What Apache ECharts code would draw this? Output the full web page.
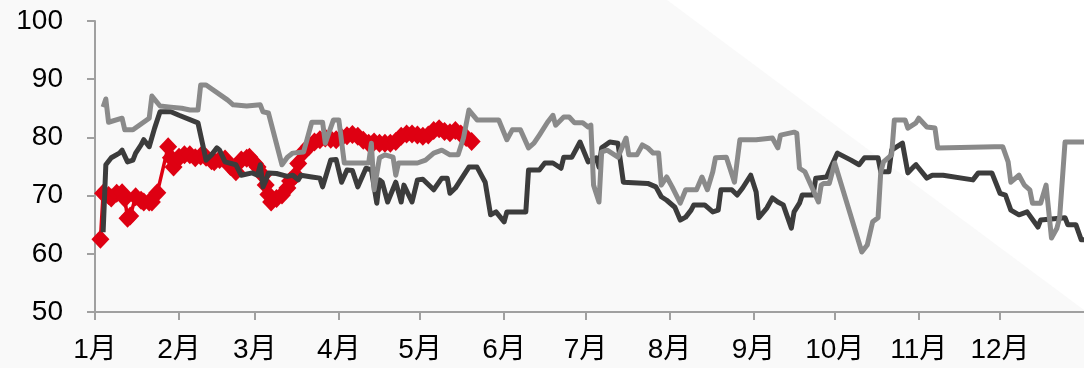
<!DOCTYPE html>
<html>
<head>
<meta charset="utf-8">
<script src="https://cdn.jsdelivr.net/npm/echarts@6/dist/echarts.min.js"></script>
<style>
  html, body { margin: 0; padding: 0; background: #f9f9f9; }
  #chart { width: 1084px; height: 368px; }
</style>
</head>
<body>
<div id="chart"></div>
<script>
// x axis: one category per day of the year, labels at month starts
const monthLabels = ['1月', '2月', '3月', '4月', '5月', '6月', '7月', '8月', '9月', '10月', '11月', '12月'];
const monthDays = [31, 28, 31, 30, 31, 30, 31, 31, 30, 31, 30, 31];

// light gray line (day of year, value)
const grayDays = [3, 4, 5, 10, 11, 14, 17, 20, 21, 24, 28, 32, 35, 38, 39, 41, 49, 51, 56, 61, 62, 64,
  69, 71, 73, 77, 80, 84, 85, 88, 90, 92, 101, 102, 103, 105, 107, 110, 111, 112, 119, 122,
  125, 128, 131, 134, 136, 138, 141, 149, 152, 154, 157, 160, 162, 164, 167, 169, 170, 173, 175,
  177, 180, 182, 183, 184, 186, 187, 189, 193, 196, 197, 200, 202, 204, 206, 208, 209, 211, 213,
  216, 218, 222, 224, 226, 228, 229, 233, 236, 238, 244, 250, 252, 253, 258, 259, 260, 262,
  267, 268, 269, 271, 273, 283, 285, 287, 289, 290, 291, 294, 295, 299, 300, 303, 304, 307,
  310, 311, 332, 335, 337, 338, 341, 343, 345, 346, 349, 351, 353, 355, 356, 358, 365];
const grayVals = [85.2, 86.6, 82.6, 83.3, 81.3, 81.3, 82.3, 83.3, 87.1, 85.4, 85.2, 85, 84.7, 84.7, 89, 89, 86.4, 85.6, 85.4, 85.6, 84.4, 84.2,
  75.3, 76.6, 77.3, 77.5, 82.6, 82.6, 79, 83, 83, 75.6, 75.6, 79, 71, 76.5, 77, 76.6, 73.5, 75.6, 75.6, 76.1,
  77.3, 77.8, 77, 77, 79.9, 84.7, 83, 83, 79.6, 81.3, 81.3, 78.2, 79, 80.4, 82.6, 83.8, 82.1, 83.5, 83.5,
  82.5, 82.5, 81.8, 82.1, 71.8, 68.9, 77.5, 77.8, 76.6, 79.9, 77, 77, 78.7, 78.2, 77.3, 77.3, 71.8, 73.2, 71.5,
  68.7, 71, 71, 73.2, 71, 74.1, 76.5, 76.6, 72.3, 79.6, 79.6, 79.9, 78.2, 80.4, 80.9, 80.7, 74.7, 74.1,
  68.9, 71.8, 72.1, 72.1, 75.6, 60.3, 61.5, 65.5, 66.2, 74.1, 75.8, 77, 83, 83, 81.6, 82.5, 83.3, 81.8,
  81.6, 78.2, 78.4, 78.4, 75.8, 72.3, 73.5, 71.8, 71, 68.7, 68.7, 71.8, 62.7, 64.4, 66.2, 79.2, 79.2];

// dark line
const darkDays = [3, 4, 6, 9, 10, 12, 14, 15, 17, 18, 20, 22, 24, 28, 31, 38, 41, 43, 45, 46, 48, 52, 54,
  58, 60, 61, 62, 63, 64, 67, 71, 73, 75, 76, 80, 83, 84, 87, 89, 91, 93, 95, 97, 100, 102, 104, 105,
  106, 108, 111, 113, 114, 117, 119, 121, 125, 128, 130, 131, 133, 138, 141, 144, 146, 148, 151, 152,
  159, 160, 164, 166, 169, 172, 173, 176, 179, 182, 185, 186, 187, 190, 193, 195, 204, 207, 209, 211,
  214, 216, 218, 220, 221, 225, 228, 230, 231, 235, 237, 239, 242, 244, 245, 248, 250, 252, 254, 257,
  258, 260, 261, 265, 266, 270, 272, 274, 279, 282, 284, 289, 290, 293, 294, 298, 300, 302, 303, 307,
  309, 313, 324, 326, 331, 334, 336, 338, 341, 344, 348, 349, 358, 359, 362, 364, 365];
const darkVals = [63.7, 75.3, 76.5, 77.3, 77.8, 75.8, 76.1, 77.3, 78.7, 79.6, 78.4, 81.6, 84.4, 84.4, 83.8, 82.5, 76.1, 77, 78.2, 77.8, 75.8, 75.3, 73.5,
  73.9, 73.5, 75.3, 71.5, 72.5, 73.9, 73.8, 73.3, 73.5, 72.7, 73.5, 73.2, 73, 71.5, 76.1, 76.2, 72.3, 74.4, 74.3, 71.5, 74.7, 74.4, 68.7, 72.7,
  72.3, 68.9, 72.3, 68.9, 71.8, 68.9, 72.7, 72.8, 71, 73, 73, 70.4, 71.3, 74.9, 74.9, 72.3, 66.7, 67.2, 65.5, 67.2,
  67.2, 74.4, 74.4, 75.6, 75.6, 74.7, 76.6, 76.6, 79.2, 75.8, 76.5, 74.9, 78.2, 79.2, 79, 72.3, 72.1, 71.5, 69.8, 69.2,
  68, 65.8, 66.3, 67.5, 68.4, 68.4, 67.2, 67.5, 71, 71, 70.1, 71.3, 73.5, 70.6, 66.2, 67.9, 69.6, 68.9, 68.4, 64.4,
  67.2, 68.7, 70.1, 70.1, 73, 73.2, 75.3, 77.3, 76.1, 75.3, 76.5, 76.5, 74.1, 74.1, 77.8, 79, 73.9, 74.9, 75.3, 73,
  73.5, 73.5, 72.7, 73.9, 73.9, 70.4, 70.1, 67.5, 66.7, 67.2, 64.6, 65.8, 66.2, 65, 65, 62.4, 62.4];

// red line with diamond markers
const redDays = [2, 3, 5, 6, 8, 10, 11, 12, 13, 15, 17, 18, 20, 21, 23, 27, 28, 29, 30, 31,
  33, 35, 37, 39, 41, 43, 44, 46, 48, 50, 52, 54, 56, 57, 59, 60, 62, 63, 64, 65,
  67, 69, 71, 72, 74, 75, 77, 79, 81, 83, 85, 87, 89, 91, 93, 95, 97, 99, 101, 103,
  105, 107, 109, 111, 113, 115, 117, 119, 121, 123, 125, 127, 129, 131, 133, 135, 137, 139];
const redVals = [62.5, 70.4, 70, 69.6, 70.4, 70.5, 69.5, 66.1, 66.5, 69.8, 69.2, 68.9, 68.9, 68.9, 70.5, 78.4, 76.5, 74.9, 76, 76.6,
  77, 77, 76.5, 76.8, 76.6, 76, 75.8, 76.2, 76.3, 75, 74.1, 76.1, 76.4, 76.6, 75.5, 74.9, 73.5, 71.8, 70.2, 68.9,
  69.5, 70.1, 71.3, 72.5, 73.5, 75.5, 77.5, 78.5, 79.2, 79.6, 79.9, 79.7, 79.6, 80, 80.3, 80.5, 80.2, 79.5, 79, 79.2,
  79, 79, 79, 79.3, 80.2, 80.6, 80.6, 80.4, 80.2, 80.4, 81.2, 81.5, 81, 80.8, 81.2, 80.6, 80, 79.3];

const zip = (xs, ys) => xs.map((x, i) => [x, ys[i]]);

// categories 0..365, month start index -> label
const days = [];
for (let i = 0; i <= 365; i++) days.push(i);
const startLabel = {};
let acc = 0;
monthDays.forEach((n, m) => { startLabel[acc] = monthLabels[m]; acc += n; });
const isStart = (i) => startLabel[i] !== undefined;

const font = "'Liberation Sans', 'Noto Sans CJK SC', sans-serif";
const axisGray = '#a0a0a0';

const chart = echarts.init(document.getElementById('chart'));
chart.setOption({
  backgroundColor: '#f9f9f9',
  animation: false,
  graphic: [{
    type: 'polygon',
    silent: true,
    z: -10,
    shape: { points: [[667, 0], [1084, 0], [1084, 310]] },
    style: { fill: '#ffffff' }
  }],
  grid: { left: 95, right: 0, top: 21, bottom: 56 },
  xAxis: {
    type: 'category',
    data: days,
    boundaryGap: false,
    axisLine: { lineStyle: { color: axisGray, width: 2 } },
    axisTick: { interval: (i) => isStart(i), length: 8, lineStyle: { color: axisGray, width: 2 } },
    axisLabel: {
      interval: (i) => isStart(i),
      formatter: (v, i) => startLabel[i] || '',
      color: '#000',
      fontSize: 28,
      fontFamily: font,
      margin: 24
    },
    splitLine: { show: false }
  },
  yAxis: {
    type: 'value',
    min: 50,
    max: 100,
    interval: 10,
    axisLine: { show: true, lineStyle: { color: axisGray, width: 2 } },
    axisTick: { show: true, length: 8, lineStyle: { color: axisGray, width: 2 } },
    axisLabel: { color: '#000', fontSize: 28, fontFamily: font, margin: 32 },
    splitLine: { show: false }
  },
  series: [
    {
      name: 'red',
      type: 'line',
      data: zip(redDays, redVals),
      symbol: 'diamond',
      symbolSize: [18, 19],
      showSymbol: true,
      showAllSymbol: true,
      itemStyle: { color: '#de0012' },
      lineStyle: { color: '#de0012', width: 3.5 },
      z: 2
    },
    {
      name: 'dark',
      type: 'line',
      data: zip(darkDays, darkVals),
      showSymbol: false,
      lineStyle: { color: '#3c3c3c', width: 5, join: 'round' },
      z: 3
    },
    {
      name: 'gray',
      type: 'line',
      data: zip(grayDays, grayVals),
      showSymbol: false,
      lineStyle: { color: '#8a8a8a', width: 5, join: 'round' },
      z: 4
    }
  ]
});
</script>
</body>
</html>
